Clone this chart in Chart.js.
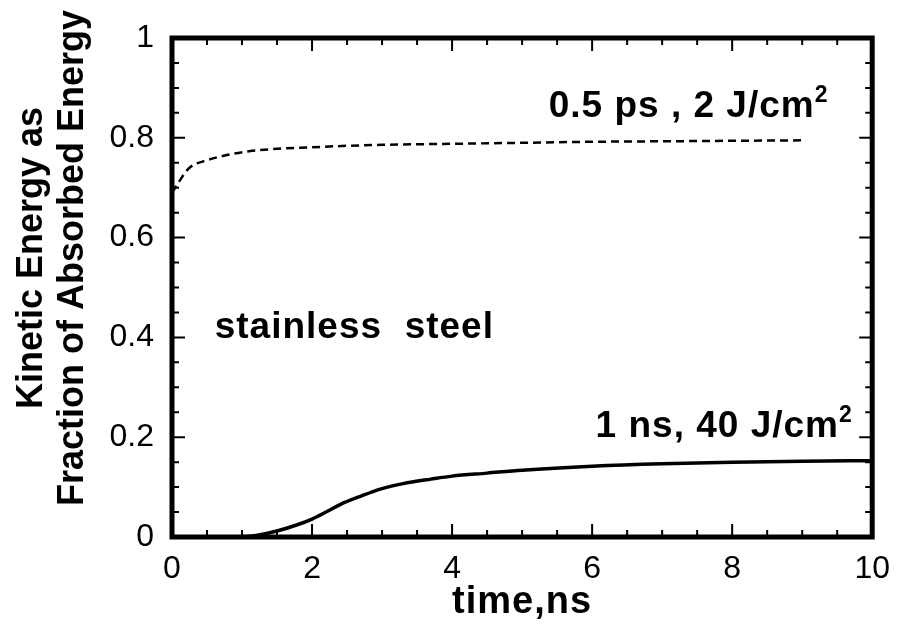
<!DOCTYPE html>
<html>
<head>
<meta charset="utf-8">
<script src="https://cdn.jsdelivr.net/npm/chart.js@4/dist/chart.umd.min.js"></script>
<style>
  html, body { margin: 0; padding: 0; background: #fff; }
  canvas { display: block; }
</style>
</head>
<body>
<canvas id="chart" width="903" height="627"></canvas>
<script>
// 0.5 ps pulse, 2 J/cm2 (dashed)
const psTime = [0, 0.1, 0.25, 0.5, 0.8, 1.1, 1.5, 2, 2.5, 3, 4, 5, 6, 7, 8, 9.05];
const psEnergy = [0.69, 0.712, 0.74, 0.755, 0.766, 0.773, 0.778, 0.781, 0.784, 0.786, 0.788, 0.790, 0.792, 0.793, 0.794, 0.795];

// 1 ns pulse, 40 J/cm2 (solid)
const nsTime = [1, 1.2, 1.5, 1.8, 2, 2.2, 2.4, 2.7, 3, 3.3, 3.7, 4, 4.5, 5, 6, 7, 8, 9, 10];
const nsEnergy = [0, 0.003, 0.012, 0.025, 0.036, 0.05, 0.065, 0.082, 0.097, 0.107, 0.116, 0.122, 0.128, 0.134, 0.142, 0.147, 0.150, 0.152, 0.153];

const xTicks = [0, 2, 4, 6, 8, 10];
const yTicks = [0, 0.2, 0.4, 0.6, 0.8, 1];

const FONT = '"Liberation Sans", Arial, Helvetica, sans-serif';

const toPoints = (xs, ys) => xs.map((x, i) => ({ x: x, y: ys[i] }));

// text placed in data units
const notes = [
  { text: '0.5 ps , 2 J/cm', sup: '2', x: 5.38, y: 0.842 },
  { text: 'stainless  steel', x: 0.61, y: 0.399 },
  { text: '1 ns, 40 J/cm', sup: '2', x: 6.05, y: 0.2 }
];

const framePlugin = {
  id: 'frame',
  afterDraw(chart) {
    const ctx = chart.ctx;
    const a = chart.chartArea;
    const xs = chart.scales.x, ys = chart.scales.y;
    ctx.save();
    ctx.strokeStyle = '#000';
    ctx.lineCap = 'butt';

    // inward ticks on all four sides
    ctx.lineWidth = 2;
    ctx.beginPath();
    for (let v = 0; v <= 10.001; v += 0.5) {
      const px = xs.getPixelForValue(v);
      const len = Math.abs(v % 2) < 0.01 ? 13 : 7;
      ctx.moveTo(px, a.bottom); ctx.lineTo(px, a.bottom - len);
      ctx.moveTo(px, a.top); ctx.lineTo(px, a.top + len);
    }
    for (let v = 0; v <= 1.0001; v += 0.05) {
      const py = ys.getPixelForValue(v);
      const major = Math.abs((v * 5) - Math.round(v * 5)) < 0.01;
      const len = major ? 13 : 7;
      ctx.moveTo(a.left, py); ctx.lineTo(a.left + len, py);
      ctx.moveTo(a.right, py); ctx.lineTo(a.right - len, py);
    }
    ctx.stroke();

    // thick frame
    ctx.lineWidth = 5;
    ctx.strokeRect(a.left, a.top, a.right - a.left, a.bottom - a.top);

    // annotations
    ctx.fillStyle = '#000';
    ctx.textBaseline = 'alphabetic';
    ctx.textAlign = 'left';
    notes.forEach(n => {
      const px = xs.getPixelForValue(n.x);
      const py = ys.getPixelForValue(n.y);
      ctx.font = 'bold 37px ' + FONT;
      ctx.letterSpacing = '1px';
      ctx.fillText(n.text, px, py);
      if (n.sup) {
        const w = ctx.measureText(n.text).width;
        ctx.font = 'bold 23px ' + FONT;
        ctx.letterSpacing = '0px';
        ctx.fillText(n.sup, px + w, py - 15);
      }
    });

    // x title
    ctx.font = 'bold 38px ' + FONT;
    ctx.letterSpacing = '1px';
    ctx.textAlign = 'center';
    ctx.fillText('time,ns', (a.left + a.right) / 2, 613);

    // y title (two lines)
    ctx.translate(0, 258);
    ctx.rotate(-Math.PI / 2);
    ctx.font = 'bold 36px ' + FONT;
    ctx.letterSpacing = '0px';
    ctx.fillText('Kinetic Energy as', 0, 42);
    ctx.fillText('Fraction of Absorbed Energy', 0, 83);
    ctx.restore();
  }
};

new Chart(document.getElementById('chart'), {
  type: 'line',
  data: {
    datasets: [
      {
        label: '0.5 ps , 2 J/cm2',
        data: toPoints(psTime, psEnergy),
        borderColor: '#000',
        borderWidth: 2.5,
        borderDash: [8, 5],
        pointRadius: 0,
        fill: false,
        cubicInterpolationMode: 'monotone'
      },
      {
        label: '1 ns, 40 J/cm2',
        data: toPoints(nsTime, nsEnergy),
        borderColor: '#000',
        borderWidth: 3.5,
        pointRadius: 0,
        fill: false,
        cubicInterpolationMode: 'monotone'
      }
    ]
  },
  options: {
    responsive: false,
    animation: false,
    devicePixelRatio: 1,
    layout: { padding: { top: 38, right: 23, left: 0, bottom: 0 } },
    plugins: { legend: { display: false }, tooltip: { enabled: false } },
    scales: {
      x: {
        type: 'linear',
        min: 0,
        max: 10,
        afterBuildTicks: s => { s.ticks = xTicks.map(v => ({ value: v })); },
        ticks: { color: '#000', font: { family: FONT, size: 32 }, padding: 13, maxRotation: 0, callback: v => String(v) },
        grid: { display: false, drawTicks: false },
        border: { display: false },
        afterFit: s => { s.height = 90; }
      },
      y: {
        min: 0,
        max: 1,
        afterBuildTicks: s => { s.ticks = yTicks.map(v => ({ value: v })); },
        ticks: { color: '#000', font: { family: FONT, size: 32 }, padding: 18, callback: v => String(v) },
        grid: { display: false, drawTicks: false },
        border: { display: false },
        afterFit: s => { s.width = 172; }
      }
    }
  },
  plugins: [framePlugin]
});
</script>
</body>
</html>
